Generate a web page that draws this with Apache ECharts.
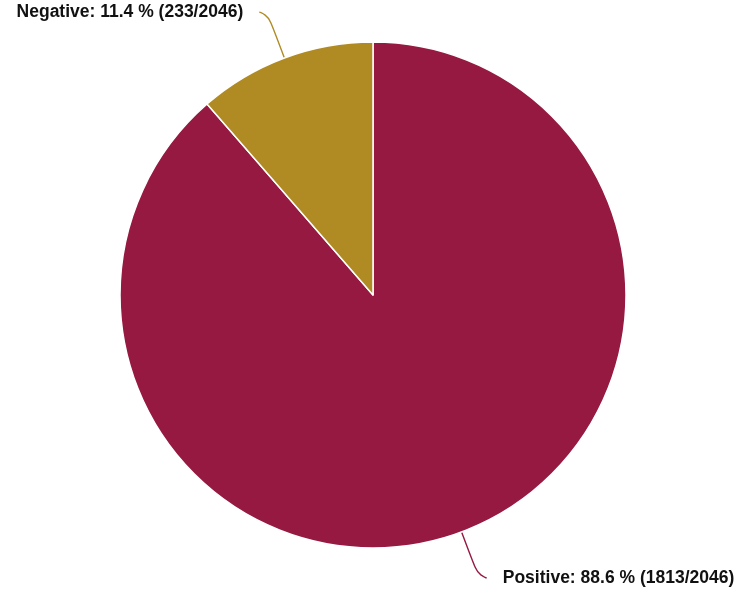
<!DOCTYPE html>
<html>
<head>
<meta charset="utf-8">
<script src="https://cdn.jsdelivr.net/npm/echarts@6/dist/echarts.min.js"></script>
<style>html,body{margin:0;padding:0;background:#fff}#c{width:738px;height:594px}</style>
</head>
<body>
<div id="c"></div>
<script>
const categories = ['Positive', 'Negative'];
const counts = [1813, 233];
const total = 2046;
const colors = ['#951940', '#B08A22'];

const chart = echarts.init(document.getElementById('c'), null, {renderer: 'canvas'});
chart.setOption({
  animation: false,
  series: [{
    type: 'pie',
    center: [373, 295],
    radius: 253,
    startAngle: 90,
    clockwise: true,
    avoidLabelOverlap: false,
    data: categories.map((c, i) => ({name: c, value: counts[i], itemStyle: {color: colors[i]}})),
    itemStyle: {borderColor: '#fff', borderWidth: 1.5},
    label: {
      show: true,
      formatter: p => p.name + ': ' + (p.value / total * 100).toFixed(1) + ' % (' + p.value + '/' + total + ')',
      fontFamily: '"Liberation Sans", Arial, sans-serif',
      fontWeight: 'bold',
      fontSize: 17.5,
      color: '#111',
      overflow: 'none',
      verticalAlign: 'top',
      lineHeight: 7,
      distanceToLabelLine: 16
    },
    labelLine: {
      show: true,
      length: 49,
      length2: 8,
      smooth: 0.8,
      lineStyle: {width: 1.4}
    }
  }]
});
</script>
</body>
</html>
